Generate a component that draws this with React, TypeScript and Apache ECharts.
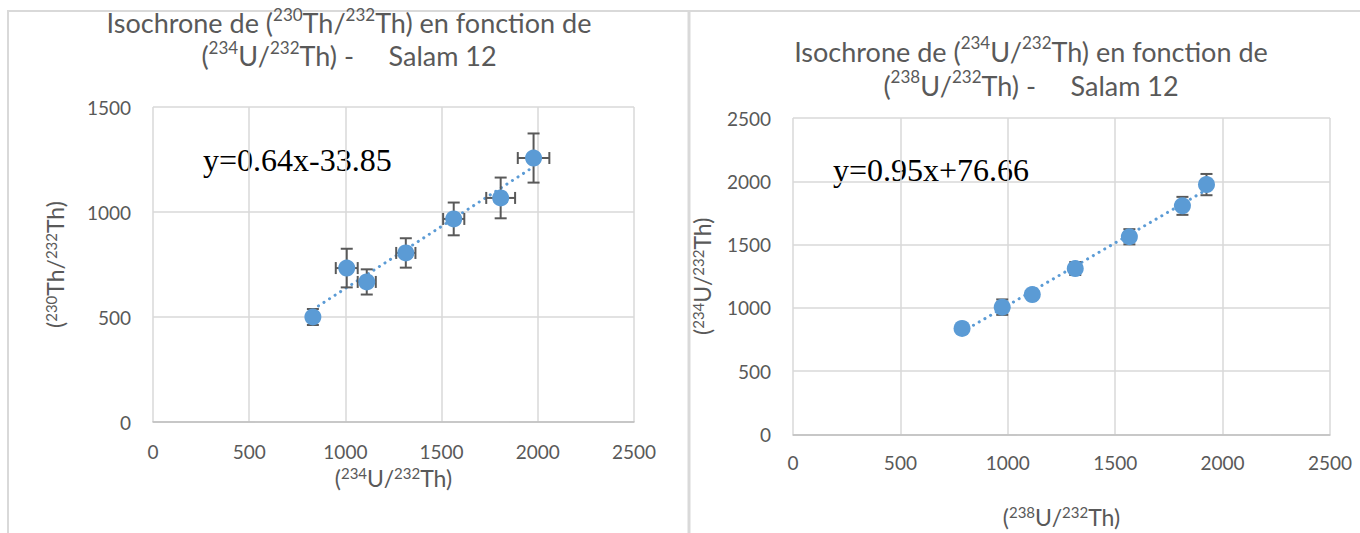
import React, { useEffect, useRef } from "react";
import * as echarts from "echarts";

// ---- data ----
const leftX = [831, 1007, 1111, 1314, 1563, 1807, 1978];
const leftY = [500, 733, 667, 805, 967, 1067, 1257];
const leftXErr = [15, 57, 47, 50, 55, 75, 82];
const leftYErr = [38, 92, 60, 70, 78, 97, 117];

const rightX = [787, 974, 1114, 1314, 1566, 1813, 1925];
const rightY = [838, 1006, 1105, 1311, 1562, 1806, 1974];
const rightXErr = [0, 0, 0, 0, 0, 0, 0];
const rightYErr = [20, 61, 30, 51, 60, 71, 84];

const leftEquation = "y=0.64x-33.85";
const rightEquation = "y=0.95x+76.66";

const leftTitle = "Isochrone de ({s|230}Th/{s|232}Th) en fonction de\n({s|234}U/{s|232}Th) -     Salam 12";
const rightTitle = "Isochrone de ({s|234}U/{s|232}Th) en fonction de\n({s|238}U/{s|232}Th) -     Salam 12";
const leftXName = "({s|234}U/{s|232}Th)";
const leftYName = "({s|230}Th/{s|232}Th)";
const rightXName = "({s|238}U/{s|232}Th)";
const rightYName = "({s|234}U/{s|232}Th)";

const xTicks = { min: 0, max: 2500, interval: 500 };
const leftYTicks = { min: 0, max: 1500, interval: 500 };
const rightYTicks = { min: 0, max: 2500, interval: 500 };

const FONT = "Lato, 'Open Sans', sans-serif";
const GREY = "#595959";
const BLUE = "#5b9bd5";

function regression(xs: number[], ys: number[]) {
  const n = xs.length;
  const mx = xs.reduce((a, b) => a + b, 0) / n;
  const my = ys.reduce((a, b) => a + b, 0) / n;
  let sxy = 0, sxx = 0;
  for (let i = 0; i < n; i++) {
    sxy += (xs[i] - mx) * (ys[i] - my);
    sxx += (xs[i] - mx) * (xs[i] - mx);
  }
  const slope = sxy / sxx;
  const b = my - slope * mx;
  const x0 = Math.min(...xs), x1 = Math.max(...xs);
  return [[x0, slope * x0 + b], [x1, slope * x1 + b]];
}

function supRich(size: number, lh: number) {
  return {
    s: { fontSize: size, fontFamily: FONT, color: GREY, verticalAlign: "top", lineHeight: lh },
  };
}

function errorSeries(idx: number, xs: number[], ys: number[], xe: number[], ye: number[]) {
  return {
    type: "custom",
    xAxisIndex: idx,
    yAxisIndex: idx,
    silent: true,
    z: 2.5,
    encode: { x: 0, y: 1 },
    data: xs.map((x, i) => [x, ys[i], xe[i], ye[i]]),
    renderItem: (params: any, api: any) => {
      const x = api.value(0), y = api.value(1), ex = api.value(2), ey = api.value(3);
      const style = { stroke: GREY, lineWidth: 2, fill: "none" };
      const cap = 6;
      const children: any[] = [];
      if (ey > 0) {
        const t = api.coord([x, y + ey]);
        const b = api.coord([x, y - ey]);
        children.push({ type: "line", shape: { x1: t[0], y1: t[1], x2: b[0], y2: b[1] }, style });
        children.push({ type: "line", shape: { x1: t[0] - cap, y1: t[1], x2: t[0] + cap, y2: t[1] }, style });
        children.push({ type: "line", shape: { x1: b[0] - cap, y1: b[1], x2: b[0] + cap, y2: b[1] }, style });
      }
      if (ex > 0) {
        const l = api.coord([x - ex, y]);
        const r = api.coord([x + ex, y]);
        children.push({ type: "line", shape: { x1: l[0], y1: l[1], x2: r[0], y2: r[1] }, style });
        children.push({ type: "line", shape: { x1: l[0], y1: l[1] - cap, x2: l[0], y2: l[1] + cap }, style });
        children.push({ type: "line", shape: { x1: r[0], y1: r[1] - cap, x2: r[0], y2: r[1] + cap }, style });
      }
      return { type: "group", children };
    },
  };
}

function xAxis(idx: number, name: string, gap: number, margin: number) {
  return {
    type: "value",
    gridIndex: idx,
    ...xTicks,
    name,
    nameLocation: "middle",
    nameGap: gap,
    nameTextStyle: { fontFamily: FONT, fontSize: 23, color: GREY, rich: supRich(15, 24) },
    axisLine: { show: true, lineStyle: { color: "#bfbfbf", width: 1.5 } },
    axisTick: { show: false },
    axisLabel: { fontFamily: FONT, fontSize: 19, color: GREY, margin, formatter: (v: number) => String(v) },
    splitLine: { show: true, lineStyle: { color: "#d9d9d9", width: 1.5 } },
  };
}

function yAxis(idx: number, ticks: any, name: string, gap: number) {
  return {
    type: "value",
    gridIndex: idx,
    ...ticks,
    name,
    nameLocation: "middle",
    nameGap: gap,
    nameRotate: 90,
    nameTextStyle: { fontFamily: FONT, fontSize: 23, color: GREY, rich: supRich(15, 24) },
    axisLine: { show: false },
    axisTick: { show: false },
    axisLabel: { fontFamily: FONT, fontSize: 19, color: GREY, margin: 22, formatter: (v: number) => String(v) },
    splitLine: { show: true, lineStyle: { color: "#d9d9d9", width: 1.5 } },
  };
}

export default function App() {
  const ref = useRef<HTMLDivElement>(null);
  useEffect(() => {
    if (!ref.current) return;
    const chart = echarts.init(ref.current, undefined, { renderer: "svg" });
    const borderColor = "#d9d9d9";
    chart.setOption({
      animation: false,
      backgroundColor: "#ffffff",
      grid: [
        { left: 153, top: 107, width: 481, height: 315 },
        { left: 793, top: 118, width: 537, height: 328 },
      ],
      xAxis: [xAxis(0, leftXName, 43, 20), xAxis(1, rightXName, 70, 18)],
      yAxis: [yAxis(0, leftYTicks, leftYName, 86), yAxis(1, rightYTicks, rightYName, 79)],
      series: [
        {
          type: "line",
          xAxisIndex: 0,
          yAxisIndex: 0,
          data: regression(leftX, leftY),
          showSymbol: false,
          silent: true,
          z: 2,
          lineStyle: { color: BLUE, width: 3, type: [0.1, 6.5], cap: "round" },
        },
        {
          type: "line",
          xAxisIndex: 1,
          yAxisIndex: 1,
          data: regression(rightX, rightY),
          showSymbol: false,
          silent: true,
          z: 2,
          lineStyle: { color: BLUE, width: 3, type: [0.1, 6.5], cap: "round" },
        },
        {
          type: "scatter",
          xAxisIndex: 0,
          yAxisIndex: 0,
          data: leftX.map((x, i) => [x, leftY[i]]),
          symbolSize: 17,
          itemStyle: { color: BLUE, opacity: 1 },
          z: 3,
        },
        {
          type: "scatter",
          xAxisIndex: 1,
          yAxisIndex: 1,
          data: rightX.map((x, i) => [x, rightY[i]]),
          symbolSize: 17,
          itemStyle: { color: BLUE, opacity: 1 },
          z: 3,
        },
        errorSeries(0, leftX, leftY, leftXErr, leftYErr),
        errorSeries(1, rightX, rightY, rightXErr, rightYErr),
      ],
      graphic: [
        { type: "line", shape: { x1: 7, y1: 11, x2: 1360, y2: 11 }, style: { stroke: borderColor, lineWidth: 2 } },
        { type: "line", shape: { x1: 8, y1: 11, x2: 8, y2: 533 }, style: { stroke: borderColor, lineWidth: 2 } },
        { type: "line", shape: { x1: 689, y1: 11, x2: 689, y2: 533 }, style: { stroke: borderColor, lineWidth: 3 } },
        {
          type: "text",
          x: 349,
          y: 39,
          style: {
            text: leftTitle,
            align: "center",
            verticalAlign: "middle",
            fontFamily: FONT,
            fontSize: 27,
            lineHeight: 33,
            fill: GREY,
            rich: supRich(17, 27),
          },
        },
        {
          type: "text",
          x: 1031,
          y: 68,
          style: {
            text: rightTitle,
            align: "center",
            verticalAlign: "middle",
            fontFamily: FONT,
            fontSize: 27,
            lineHeight: 34,
            fill: GREY,
            rich: supRich(17, 27),
          },
        },
        {
          type: "text",
          x: 203,
          y: 160,
          style: {
            text: leftEquation,
            align: "left",
            verticalAlign: "middle",
            fontFamily: "'Liberation Serif', 'DejaVu Serif', serif",
            fontSize: 32,
            fill: "#000000",
          },
        },
        {
          type: "text",
          x: 833,
          y: 170,
          style: {
            text: rightEquation,
            align: "left",
            verticalAlign: "middle",
            fontFamily: "'Liberation Serif', 'DejaVu Serif', serif",
            fontSize: 32,
            fill: "#000000",
          },
        },
      ],
    });
    return () => chart.dispose();
  }, []);
  return <div ref={ref} style={{ position: "fixed", left: 0, top: 0, width: 1360, height: 533 }} />;
}
